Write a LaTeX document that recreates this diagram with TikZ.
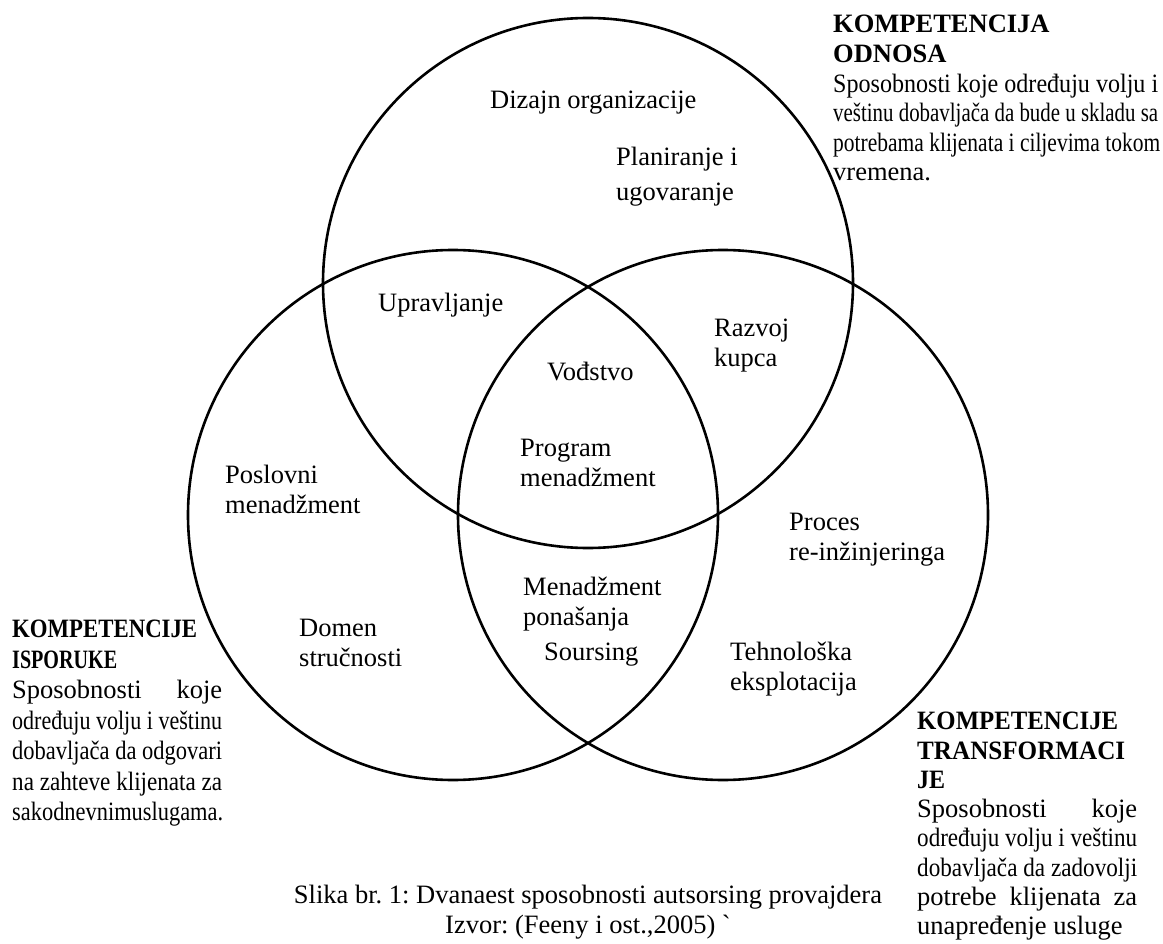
\documentclass[tikz,border=0pt]{standalone}
\usepackage{fontspec}
\usepackage{graphicx}
\setmainfont{Liberation Serif}
\newfontfamily\gravefont{Liberation Serif}
\usetikzlibrary{positioning}
\frenchspacing

% one line of a side text, stretched or squeezed to a fixed width
\newlength{\natw}
\newcommand{\squeeze}[2]{\resizebox{#1}{\height}{#2}}
\newcommand{\fitline}[2]{\settowidth{\natw}{#2}%
  \ifdim\natw>#1\relax\squeeze{#1}{#2}\else\makebox[#1][s]{#2}\fi}

\begin{document}
\begin{tikzpicture}[x=1pt, y=-1pt,
    venn/.style={draw, circle, line width=2.6pt, minimum size=530pt, inner sep=0pt},
    lbl/.style={anchor=north west, align=left, inner sep=0pt,
                font=\fontsize{26.5}{30}\selectfont},
    side/.style={anchor=north west, align=left, inner sep=0pt}]
                \useasboundingbox (0,0) rectangle (1163,944);

                % Text in the three circles
                \node[lbl] (dizajn) at (490,87) {\strut Dizajn organizacije};
                \node[lbl, font=\fontsize{26.5}{35}\selectfont] (plan) at (616,141) {\strut Planiranje i\\ugovaranje};
                \node[lbl] (uprav) at (378,290) {\strut Upravljanje};
                \node[lbl] (razvoj) at (714,315) {\strut Razvoj\\kupca};
                \node[lbl] (vodstvo) at (547,359) {\strut Vođstvo};
                \node[lbl] (program) at (520,435) {\strut Program\\menadžment};
                \node[lbl] (poslovni) at (225,462) {\strut Poslovni\\menadžment};
                \node[lbl] (proces) at (789,509) {\strut Proces\\re-inžinjeringa};
                \node[lbl] (ponas) at (523,574) {\strut Menadžment\\ponašanja};
                \node[lbl] (sours) at (544,639) {\strut Soursing};
                \node[lbl] (domen) at (299,615) {\strut Domen\\stručnosti};
                \node[lbl] (tehno) at (730,639) {\strut Tehnološka\\eksplotacija};

                % Circles
                \node[venn] (odnos) at (588,283) {};
                \node[venn] (isporuka) at (453,515) {};
                \node[venn] (transf) at (723,515) {};

                % Side texts
                \node[side, font=\fontsize{26.5}{29.6}\selectfont] (odnosTxt) at (833,12) {\strut\textbf{KOMPETENCIJA}\\
                    \textbf{ODNOSA}\\
                    \fitline{325pt}{Sposobnosti koje određuju volju i}\\
                    \fitline{325pt}{veštinu dobavljača da bude u skladu sa}\\
                    \fitline{327pt}{potrebama klijenata i ciljevima tokom}\\
                    vremena.};
                \node[side, font=\fontsize{26.5}{30.5}\selectfont] (isporukaTxt) at (12,616) {\strut\squeeze{185pt}{\textbf{KOMPETENCIJE}}\\
                    \squeeze{105pt}{\textbf{ISPORUKE}}\\
                    \fitline{210pt}{Sposobnosti koje}\\
                    \fitline{210pt}{određuju volju i veštinu}\\
                    \fitline{210pt}{dobavljača da odgovari}\\
                    \fitline{210pt}{na zahteve klijenata za}\\
                    \squeeze{211pt}{sakodnevnimuslugama.}};
                \node[side, font=\fontsize{26.5}{29.3}\selectfont] (transfTxt) at (917,709) {\strut\squeeze{201pt}{\textbf{KOMPETENCIJE}}\\
                    \squeeze{208pt}{\textbf{TRANSFORMACI}}\\
                    \squeeze{28pt}{\textbf{JE}}\\
                    \fitline{220pt}{Sposobnosti koje}\\
                    \fitline{220pt}{određuju volju i veštinu}\\
                    \fitline{220pt}{dobavljača da zadovolji}\\
                    \fitline{220pt}{potrebe klijenata za}\\
                    unapređenje usluge};

                % Caption
                \node[anchor=north, align=center, inner sep=0pt, font=\fontsize{26.5}{30}\selectfont] (caption) at (588,882)
                    {\strut Slika br. 1: Dvanaest sposobnosti autsorsing provajdera\\Izvor: (Feeny i ost.,2005) {\gravefont`}};
            \end{tikzpicture}
\end{document}
